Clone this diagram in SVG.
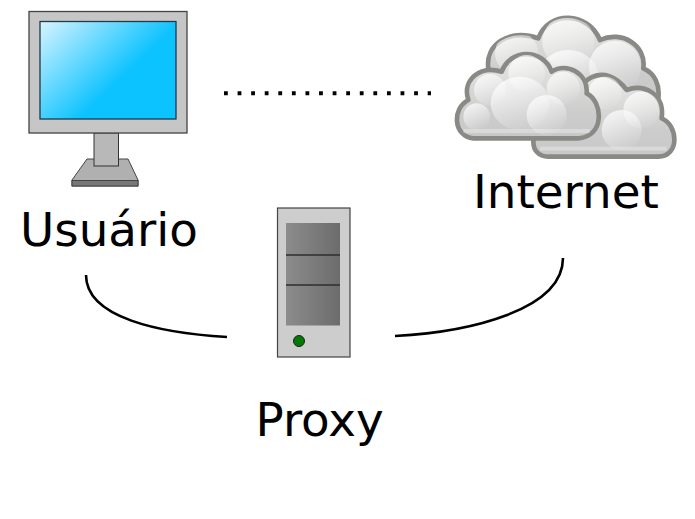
<svg xmlns="http://www.w3.org/2000/svg" width="695" height="519" viewBox="0 0 695 519">
<style>
text{font-family:"DejaVu Sans",sans-serif;font-size:46.8px;fill:#000}
.cl{fill:url(#cg);stroke:#888a85;stroke-width:14;stroke-linejoin:round}
.conn{fill:none;stroke:#000;stroke-width:2.600}
.b{fill:url(#bump)}
</style>
<defs>
<linearGradient id="scr" gradientUnits="userSpaceOnUse" x1="40" y1="21" x2="108" y2="92"><stop offset="0" stop-color="#d8f4ff"/><stop offset="1" stop-color="#0cc2ff"/></linearGradient>
<linearGradient id="cg" x1="0" y1="0" x2="0" y2="1"><stop offset="0" stop-color="#e8e8e6"/><stop offset=".7" stop-color="#cccccc"/><stop offset="1" stop-color="#c8c8c8"/></linearGradient>
<linearGradient id="bump" x1=".25" y1="0" x2=".75" y2="1"><stop offset="0" stop-color="#fff" stop-opacity=".75"/><stop offset="1" stop-color="#fff" stop-opacity="0"/></linearGradient>
<linearGradient id="pan" x1="0" y1="0" x2="1" y2="0"><stop offset="0" stop-color="#8c8c8c"/><stop offset="1" stop-color="#6c6c6c"/></linearGradient>
<clipPath id="c1"><path d="M130,190C120,120 190,70 280,100C310,15 430,20 465,105C530,75 605,120 595,190C630,205 645,240 640,280H130Z"/></clipPath>
<clipPath id="c2"><path d="M265,410C280,340 340,330 400,300C385,225 480,165 545,255C600,235 660,270 650,340C700,360 705,455 640,455H310C280,455 265,435 265,410Z"/></clipPath>
<clipPath id="c3"><path d="M70,285C50,225 105,180 170,200C195,130 295,130 320,200C365,170 430,205 425,265C475,290 480,395 400,400H85C25,395 20,310 70,285Z"/></clipPath>
</defs>
<g id="usuario">
<path d="M87,159H128L138,180V186H72V180Z" fill="#b0b0b0" stroke="#444" stroke-width="1"/>
<rect x="72" y="180.500" width="66" height="5.500" fill="#777" stroke="#444" stroke-width="1"/>
<rect x="94" y="133" width="24.500" height="33" fill="#b8b8b8" stroke="#333" stroke-width="1"/>
<rect x="29" y="11.500" width="158" height="121.500" fill="#c6c6c6" stroke="#444" stroke-width="1.300"/>
<rect x="40" y="21.500" width="136" height="97.500" fill="url(#scr)" stroke="#1f3a4a" stroke-width="1.300"/>
<text x="20" y="246">Usuário</text>
</g>
<g id="internet">
<g transform="translate(445,5) scale(.3333)">
<path class="cl" d="M130,190C120,120 190,70 280,100C310,15 430,20 465,105C530,75 605,120 595,190C630,205 645,240 640,280H130Z"/>
<g clip-path="url(#c1)">
<circle cx="370" cy="110" r="78" class="b"/>
<circle cx="215" cy="145" r="65" class="b"/>
<circle cx="510" cy="185" r="78" class="b"/>
<ellipse cx="370" cy="215" rx="90" ry="80" class="b"/>
</g>
<path class="cl" d="M265,410C280,340 340,330 400,300C385,225 480,165 545,255C600,235 660,270 650,340C700,360 705,455 640,455H310C280,455 265,435 265,410Z"/>
<g clip-path="url(#c2)">
<circle cx="480" cy="265" r="50" class="b"/>
<circle cx="590" cy="315" r="55" class="b"/>
<circle cx="530" cy="375" r="60" class="b"/>
<rect x="285" y="425" width="380" height="12" fill="#fff" opacity=".3"/>
</g>
<path class="cl" d="M70,285C50,225 105,180 170,200C195,130 295,130 320,200C365,170 430,205 425,265C475,290 480,395 400,400H85C25,395 20,310 70,285Z"/>
<g clip-path="url(#c3)">
<circle cx="135" cy="255" r="48" class="b"/>
<circle cx="245" cy="205" r="55" class="b"/>
<circle cx="355" cy="250" r="50" class="b"/>
<circle cx="95" cy="335" r="40" class="b"/>
<ellipse cx="225" cy="295" rx="88" ry="80" class="b"/>
<circle cx="305" cy="330" r="60" class="b"/>
<rect x="55" y="372" width="380" height="12" fill="#fff" opacity=".3"/>
</g>
</g>
<text x="473" y="208">Internet</text>
</g>
<g id="proxy">
<rect x="277.500" y="208" width="72.500" height="149" fill="#cdcdcd" stroke="#444" stroke-width="1.200"/>
<rect x="286" y="223" width="54" height="102.500" fill="url(#pan)"/>
<path d="M286,255H340M286,285H340" stroke="#2e2e2e" stroke-width="1.600"/>
<circle cx="299" cy="341" r="5.500" fill="#007a00" stroke="#222" stroke-width="1"/>
<text x="255.500" y="436">Proxy</text>
</g>
<g id="connectors">
<path class="conn" d="M86,275C86,318 160,333 227,337"/>
<path class="conn" d="M395,336C470,332 563,310 563,258"/>
<line x1="224" y1="93.300" x2="431" y2="93.300" stroke="#000" stroke-width="4" stroke-dasharray="3.800 9.780"/>
</g>
</svg>
